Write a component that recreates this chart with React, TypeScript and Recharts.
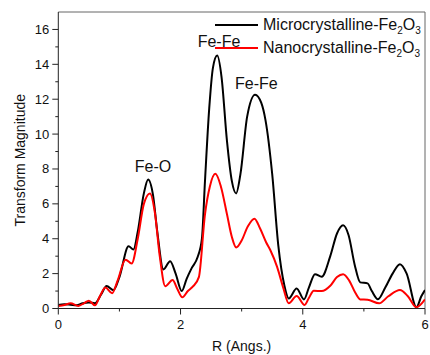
import { LineChart, Line, XAxis, YAxis, ReferenceLine, ReferenceDot, Legend } from 'recharts';

// R (Angs.) and transform magnitude
const microR = [
  0, 0.1, 0.2, 0.3, 0.4, 0.5, 0.6, 0.7, 0.79, 0.9, 1.0, 1.15, 1.23, 1.3, 1.4, 1.47, 1.55, 1.62, 1.72, 1.83,
  1.92, 2.02, 2.1, 2.18, 2.28, 2.35, 2.4, 2.47, 2.53, 2.6, 2.67, 2.76, 2.84, 2.91, 2.98, 3.09, 3.22, 3.32, 3.39, 3.5,
  3.6, 3.7, 3.77, 3.9, 4.02, 4.1, 4.2, 4.31, 4.45, 4.56, 4.66, 4.75, 4.85, 4.94, 5.06, 5.13, 5.23, 5.35, 5.47, 5.59,
  5.7, 5.86, 5.94, 6.0,
];
const microVal = [
  0.2, 0.25, 0.22, 0.18, 0.3, 0.35, 0.3, 0.8, 1.29, 1.05, 1.8, 3.57, 3.38, 4.4, 6.6, 7.4, 6.5, 4.4, 2.24, 2.71,
  2.0, 1.0, 1.7, 2.3, 2.95, 4.0, 7.3, 11.5, 13.8, 14.5, 13.3, 9.6, 7.3, 6.6, 7.7, 11.0, 12.26, 11.8, 10.8, 7.7,
  3.6, 1.3, 0.58, 1.15, 0.52, 1.2, 1.97, 1.82, 3.0, 4.3, 4.77, 4.2, 2.5, 1.5, 1.44, 1.0, 0.53, 1.2, 2.0, 2.54,
  2.0, 0.07, 0.7, 1.06,
];

const nanoR = [
  0, 0.1, 0.2, 0.33, 0.42, 0.5, 0.6, 0.68, 0.77, 0.88, 0.97, 1.1, 1.2, 1.3, 1.4, 1.5, 1.58, 1.66, 1.75, 1.87,
  1.95, 2.03, 2.12, 2.2, 2.3, 2.4, 2.48, 2.57, 2.66, 2.76, 2.84, 2.91, 3.0, 3.1, 3.21, 3.3, 3.4, 3.47, 3.58, 3.68,
  3.77, 3.9, 4.03, 4.1, 4.18, 4.31, 4.45, 4.56, 4.66, 4.76, 4.86, 4.94, 5.06, 5.25, 5.4, 5.59, 5.72, 5.86, 6.0,
];
const nanoVal = [
  0.15, 0.2, 0.3, 0.15, 0.3, 0.45, 0.18, 0.7, 1.2, 0.87, 1.6, 2.8, 2.58, 4.0, 6.0, 6.6, 5.5, 3.0, 1.28, 1.63,
  1.1, 0.64, 1.0, 1.25, 1.8, 5.4, 7.0, 7.72, 7.0, 5.4, 4.1, 3.5, 3.9, 4.7, 5.15, 4.6, 3.8, 3.34, 2.39, 1.2,
  0.3, 0.71, 0.2, 0.6, 1.02, 1.0, 1.3, 1.8, 1.97, 1.6, 0.9, 0.52, 0.5, 0.3, 0.7, 1.06, 0.7, 0.07, 0.52,
];

const xTicks = [0, 1, 2, 3, 4, 5, 6];
const yTicks = [0, 1, 2, 3, 4, 5, 6, 7, 8, 9, 10, 11, 12, 13, 14, 15, 16];

const peakLabels = [
  { r: 1.55, v: 8.14, text: 'Fe-O' },
  { r: 2.63, v: 15.34, text: 'Fe-Fe' },
  { r: 3.24, v: 12.9, text: 'Fe-Fe' },
];

const microData = microR.map((r, i) => ({ r, v: microVal[i] }));
const nanoData = nanoR.map((r, i) => ({ r, v: nanoVal[i] }));

const FONT = "'Liberation Sans', Arial, sans-serif";
const AXIS = '#222';

const YTick = ({ x, y, payload }: any) => {
  const major = payload.value % 2 === 0;
  return (
    <g>
      <line x1={x} x2={x - (major ? 6 : 3)} y1={y} y2={y} stroke={AXIS} />
      {major && (
        <text x={x - 9} y={y} dy={4.5} textAnchor="end" fontSize={13} fontFamily={FONT} fill="#111">
          {payload.value}
        </text>
      )}
    </g>
  );
};

const XTick = ({ x, y, payload }: any) => {
  const major = payload.value % 2 === 0;
  return (
    <g>
      <line x1={x} x2={x} y1={y} y2={y + (major ? 6 : 3)} stroke={AXIS} />
      {major && (
        <text x={x} y={y + 20} textAnchor="middle" fontSize={13} fontFamily={FONT} fill="#111">
          {payload.value}
        </text>
      )}
    </g>
  );
};

const legendItems = [
  { name: 'Microcrystalline-Fe', color: '#000000' },
  { name: 'Nanocrystalline-Fe', color: '#ff0000' },
];

const renderLegend = () => (
  <div style={{ fontFamily: FONT, fontSize: 16, color: '#111' }}>
    {legendItems.map((it) => (
      <div key={it.name} style={{ display: 'flex', alignItems: 'center', height: 22.5 }}>
        <span style={{ display: 'inline-block', width: 43, height: 2, background: it.color, marginRight: 5 }} />
        <span style={{ lineHeight: '22px', whiteSpace: 'nowrap' }}>
          {it.name}
          <sub style={{ fontSize: 10, verticalAlign: -4, lineHeight: 0 }}>2</sub>O
          <sub style={{ fontSize: 10, verticalAlign: -4, lineHeight: 0 }}>3</sub>
        </span>
      </div>
    ))}
  </div>
);

export default function App() {
  return (
    <div style={{ position: 'absolute', left: 0, top: 0, width: 430, height: 355, background: '#fff' }}>
      <LineChart width={430} height={355} margin={{ top: 12, right: 5, bottom: 0, left: 0 }}>
        <XAxis
          dataKey="r"
          type="number"
          domain={[0, 6]}
          ticks={xTicks}
          interval={0}
          height={46.5}
          tick={<XTick />}
          tickLine={false}
          tickSize={0}
          tickMargin={0}
          stroke={AXIS}
          allowDataOverflow
          label={{ value: 'R (Angs.)', position: 'insideBottom', offset: 4, fontSize: 14, fontFamily: FONT, fill: '#111' }}
        />
        <YAxis
          type="number"
          domain={[0, 17]}
          ticks={yTicks}
          interval={0}
          width={58.3}
          tick={<YTick />}
          tickLine={false}
          tickSize={0}
          tickMargin={0}
          stroke={AXIS}
          allowDataOverflow
          label={{
            value: 'Transform Magnitude',
            angle: -90,
            position: 'insideLeft',
            offset: 20,
            style: { textAnchor: 'middle' },
            fontSize: 14,
            fontFamily: FONT,
            fill: '#111',
          }}
        />
        <ReferenceLine y={17} stroke="#666" />
        <ReferenceLine x={6} stroke="#666" />
        <Line
          data={microData}
          dataKey="v"
          type="monotone"
          stroke="#000000"
          strokeWidth={2}
          dot={false}
          isAnimationActive={false}
        />
        <Line
          data={nanoData}
          dataKey="v"
          type="monotone"
          stroke="#ff0000"
          strokeWidth={2}
          dot={false}
          isAnimationActive={false}
        />
        {peakLabels.map((p, i) => (
          <ReferenceDot
            key={i}
            x={p.r}
            y={p.v}
            r={0}
            fill="none"
            stroke="none"
            ifOverflow="visible"
            label={{ value: p.text, position: 'center', fontSize: 16, fontFamily: FONT, fill: '#111' }}
          />
        ))}
        <Legend
          layout="vertical"
          align="center"
          verticalAlign="middle"
          content={renderLegend}
          wrapperStyle={{ top: 14, left: 215, width: 215, height: 45 }}
        />
      </LineChart>
    </div>
  );
}
